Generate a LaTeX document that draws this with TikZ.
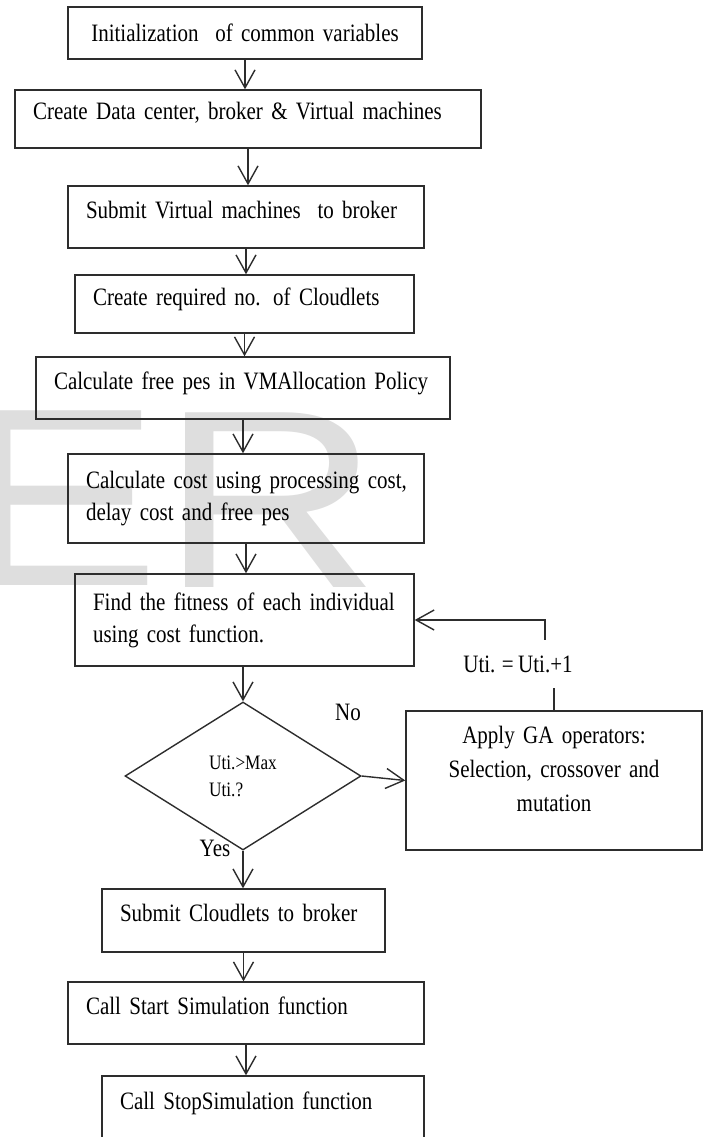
\documentclass[tikz,border=0pt]{standalone}
\usepackage{fontspec}
\setmainfont{Liberation Serif}[FakeStretch=0.84]
\newfontfamily\wmfont{Liberation Sans}[FakeStretch=1.2]
\usepackage{tikz}
\usetikzlibrary{
  arrows.meta,
  shapes.geometric
}
\definecolor{edge}{RGB}{45,45,45}
\definecolor{wmgray}{RGB}{222,222,222}
\newcommand{\boxfont}{\fontsize{25}{32}\selectfont\spaceskip=4.6pt plus 1pt}
\newcommand{\gafont}{\fontsize{25}{34}\selectfont\spaceskip=4.6pt plus 1pt}
\newcommand{\condfont}{\fontsize{20.5}{27}\selectfont}

\begin{document}
\begin{tikzpicture}[x=1pt, y=-1pt,
            stage/.style={rectangle, draw=edge, line width=1.4pt, text=black, font=\boxfont, align=left, inner xsep=18pt, inner ysep=0pt},
            oneline/.style={text height=17pt, text depth=15pt},
            decision/.style={diamond, draw=edge, line width=1.4pt, font=\condfont, align=left, aspect=1.6, minimum width=236pt, minimum height=148pt, inner sep=0pt},
            tag/.style={font=\boxfont, inner sep=0pt},
            wm/.style={font=\wmfont\fontsize{254}{254}\selectfont, text=wmgray, inner sep=0pt, anchor=base west},
            arr/.style={draw=edge, line width=1.4pt, -{Straight Barb[length=18pt, width=20pt]}}]
            \useasboundingbox (0,0) rectangle (709,1137);
            % watermark behind the chart
            \node [wm] (wmE) at (-43,585) {E};
            \node [wm] (wmR) at (160,587) {R};

            \node [stage, align=center, text width=318pt, minimum height=52pt] (init) at (245,33) {Initialization\ \ of common variables};
            \node [stage, oneline, text width=430pt, minimum height=58pt] (create) at (248,119) {Create Data center, broker \& Virtual machines};
            \node [stage, oneline, text width=320pt, minimum height=62pt] (submitvm) at (246,217) {Submit Virtual machines\ \ to broker};
            \node [stage, oneline, text width=303pt, minimum height=58pt] (cloudlets) at (244.5,304) {Create required no. of Cloudlets};
            \node [stage, oneline, text width=378pt, minimum height=62pt] (freepes) at (243,388) {Calculate free pes in VMAllocation Policy};
            \node [stage, text width=320pt, minimum height=89pt] (cost) at (246,498.5) {\mbox{Calculate cost using processing cost,}\\\mbox{delay cost and free pes}};
            \node [stage, text width=303pt, minimum height=92pt] (fit) at (244.5,620) {\mbox{Find the fitness of each individual}\\\mbox{using cost function.}};
            \node [decision] (dec) at (243,776) {Uti.>Max\\Uti.?};
            \node [stage, align=center, font=\gafont, text height=17pt, text depth=92pt, text width=260pt, minimum height=139pt] (ga) at (554,780.5) {Apply GA operators:\\Selection, crossover and\\mutation};
            \node [stage, oneline, text width=247pt, minimum height=63pt] (submitcl) at (243.5,920.5) {Submit Cloudlets to broker};
            \node [stage, oneline, text width=320pt, minimum height=62pt] (startsim) at (246,1013) {Call Start Simulation function};
            \node [stage, oneline, text width=286pt, minimum height=64pt] (stopsim) at (263,1108) {Call StopSimulation function};

            \node [tag] (no) at (348,712) {No};
            \node [tag] (yes) at (215,848) {Yes};
            \node [tag, minimum height=48pt] (inc) at (518,664) {Uti. = Uti.+1};

            \path [arr] (init.south) -- (init.south |- create.north);
            \path [arr] (create.south) -- (create.south |- submitvm.north);
            \path [arr] (submitvm.south) -- (submitvm.south |- cloudlets.north);
            \path [arr] (cloudlets.south) -- (cloudlets.south |- freepes.north);
            \path [arr] (freepes.south) -- (freepes.south |- cost.north);
            \path [arr] (cost.south) -- (cost.south |- fit.north);
            \path [arr] (fit.south -| dec.north) -- (dec.north);
            \path [arr] (dec.east) -- (ga.west);
            \path [arr] (dec.south) -- (dec.south |- submitcl.north);
            \path [arr] (submitcl.south) -- (submitcl.south |- startsim.north);
            \path [arr] (startsim.south) -- (startsim.south |- stopsim.north);
            \draw [edge, line width=1.4pt] (ga.north) -- (ga.north |- inc.south);
            \path [arr] ([xshift=-9pt]ga.north |- inc.north) |- (fit.east);
\end{tikzpicture}
\end{document}
